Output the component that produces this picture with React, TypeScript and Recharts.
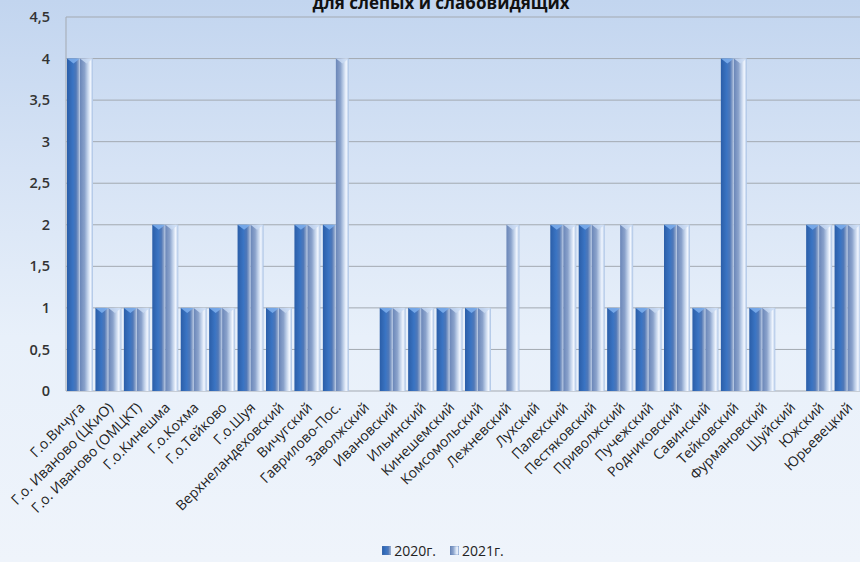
import { Bar, BarChart, CartesianGrid, Legend, XAxis, YAxis } from 'recharts'

const categories = [
  'Г.о.Вичуга',
  'Г.о. Иваново (ЦКиО)',
  'Г.о. Иваново (ОМЦКТ)',
  'Г.о.Кинешма',
  'Г.о.Кохма',
  'Г.о.Тейково',
  'Г.о.Шуя',
  'Верхнеландеховский',
  'Вичугский',
  'Гаврилово-Пос.',
  'Заволжский',
  'Ивановский',
  'Ильинский',
  'Кинешемский',
  'Комсомольский',
  'Лежневский',
  'Лухский',
  'Палехский',
  'Пестяковский',
  'Приволжский',
  'Пучежский',
  'Родниковский',
  'Савинский',
  'Тейковский',
  'Фурмановский',
  'Шуйский',
  'Южский',
  'Юрьевецкий',
]

const values2020 = [4, 1, 1, 2, 1, 1, 2, 1, 2, 2, 0, 1, 1, 1, 1, 0, 0, 2, 2, 1, 1, 2, 1, 4, 1, 0, 2, 2]
const values2021 = [4, 1, 1, 2, 1, 1, 2, 1, 2, 4, 0, 1, 1, 1, 1, 2, 0, 2, 2, 2, 1, 2, 1, 4, 1, 0, 2, 2]

const yTicks = [0, 0.5, 1, 1.5, 2, 2.5, 3, 3.5, 4, 4.5]

const seriesNames = ['2020г.', '2021г.']

const data = categories.map((name, i) => ({
  name,
  y2020: values2020[i],
  y2021: values2021[i],
}))

const FONT = '"Open Sans", "Noto Sans", sans-serif'

function BevelBar(props: any) {
  const { x, y, width, height, gradId, capColor } = props
  if (!height || height <= 0) return null
  const cap = Math.min(5, height)
  return (
    <g>
      <rect x={x} y={y} width={width} height={height} fill={`url(#${gradId})`} />
      <polygon
        points={`${x},${y} ${x + width},${y} ${x + width * 0.5},${y + cap}`}
        fill={capColor}
        opacity={0.85}
      />
    </g>
  )
}

function XTick(props: any) {
  const { x, y, payload } = props
  return (
    <g transform={`translate(${x + 2},${y + 6})`}>
      <text
        x={0}
        y={0}
        dy="0.35em"
        textAnchor="end"
        transform="rotate(-45)"
        fontFamily={FONT}
        fontSize={14}
        fill="#222"
      >
        {payload.value}
      </text>
    </g>
  )
}

function LegendContent() {
  const items = [
    { label: seriesNames[0], grad: 'g2020' },
    { label: seriesNames[1], grad: 'g2021' },
  ]
  return (
    <div style={{ display: 'flex', justifyContent: 'center', gap: 14, paddingLeft: 24, paddingTop: 3 }}>
      {items.map((it) => (
        <div key={it.label} style={{ display: 'flex', alignItems: 'center', gap: 3 }}>
          <svg width={9} height={9}>
            <rect x={0} y={0} width={9} height={9} fill={`url(#${it.grad})`} stroke="#5d7fb5" strokeWidth={0.5} />
          </svg>
          <span style={{ fontFamily: FONT, fontSize: 14, color: '#222' }}>{it.label}</span>
        </div>
      ))}
    </div>
  )
}

export default function App() {
  return (
    <div
      style={{
        position: 'fixed',
        left: 0,
        top: 0,
        width: 860,
        height: 562,
        overflow: 'hidden',
        background: 'linear-gradient(180deg, #c2d5ef 0%, #d6e3f5 30%, #e8f0fa 60%, #eff4fb 100%)',
      }}
    >
      <div
        style={{
          position: 'absolute',
          top: -9,
          left: 0,
          width: 882,
          textAlign: 'center',
          fontFamily: FONT,
          fontWeight: 700,
          fontSize: 17,
          color: '#111',
        }}
      >
        для слепых и слабовидящих
      </div>
      <BarChart
        width={862}
        height={562}
        data={data}
        margin={{ top: 17, right: 0, left: 0, bottom: 0 }}
        barCategoryGap={1}
        barGap={0}
      >
        <defs>
          <linearGradient id="g2020" x1="0" y1="0" x2="1" y2="0">
            <stop offset="0%" stopColor="#2b5ea8" />
            <stop offset="45%" stopColor="#3a74c3" />
            <stop offset="70%" stopColor="#4f78b8" />
            <stop offset="88%" stopColor="#8ba2c9" />
            <stop offset="100%" stopColor="#c2d3ec" />
          </linearGradient>
          <linearGradient id="g2021" x1="0" y1="0" x2="1" y2="0">
            <stop offset="0%" stopColor="#6a86b8" />
            <stop offset="35%" stopColor="#8aa2cb" />
            <stop offset="55%" stopColor="#b9cbe6" />
            <stop offset="80%" stopColor="#f2f7ff" />
            <stop offset="100%" stopColor="#a8c1e4" />
          </linearGradient>
        </defs>
        <CartesianGrid vertical={false} stroke="#a3a9b1" />
        <XAxis
          dataKey="name"
          interval={0}
          height={147}
          tick={<XTick />}
          tickLine={false}
          axisLine={false}
        />
        <YAxis
          domain={[0, 4.5]}
          ticks={yTicks}
          width={66}
          tickSize={0}
          tickMargin={16}
          tickFormatter={(v: number) => String(v).replace('.', ',')}
          tick={{ fontFamily: FONT, fontSize: 14.5, fill: '#333', fontWeight: 600 }}
          axisLine={{ stroke: '#a3a9b1' }}
          tickLine={false}
          allowDataOverflow
        />
        <Legend verticalAlign="bottom" height={24} content={<LegendContent />} />
        <Bar
          dataKey="y2020"
          name={seriesNames[0]}
          isAnimationActive={false}
          shape={(p: any) => <BevelBar {...p} gradId="g2020" capColor="#7fb0ee" />}
        />
        <Bar
          dataKey="y2021"
          name={seriesNames[1]}
          isAnimationActive={false}
          shape={(p: any) => <BevelBar {...p} gradId="g2021" capColor="#c9dbf3" />}
        />
      </BarChart>
    </div>
  )
}
